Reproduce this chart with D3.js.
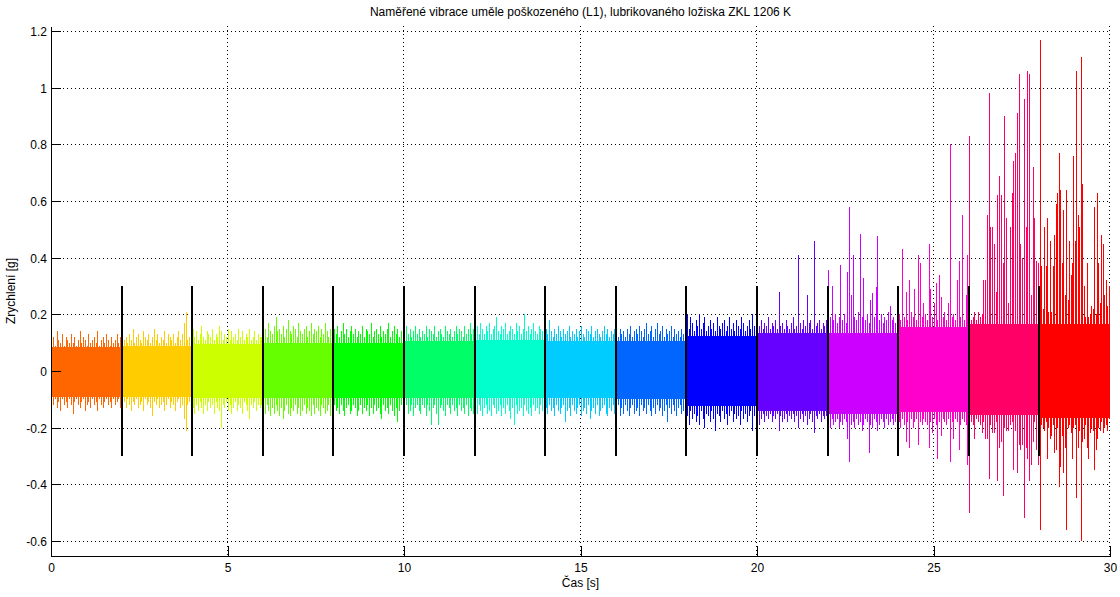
<!DOCTYPE html>
<html><head><meta charset="utf-8">
<script src="https://cdn.jsdelivr.net/npm/d3@7"></script>
<style>
html,body{margin:0;padding:0;background:#fff;}
svg{display:block;font-family:"Liberation Sans",Arial,Helvetica,sans-serif;}
</style></head>
<body><svg id="chart" width="1120" height="597"></svg>
<script>
const title = "Naměřené vibrace uměle poškozeného (L1), lubrikovaného ložiska ZKL 1206 K";
const xLabel = "Čas [s]";
const yLabel = "Zrychlení [g]";
const xTicks = [0,5,10,15,20,25,30];
const xTickLabels = ["0","5","10","15","20","25","30"];
const yTicks = [-0.6,-0.4,-0.2,0,0.2,0.4,0.6,0.8,1,1.2];
const yTickLabels = ["-0.6","-0.4","-0.2","0","0.2","0.4","0.6","0.8","1","1.2"];
const segStart = [0,2,4,6,8,10,12,14,16,18,20,22,24,26,28];
const segDur = 2;
const segColors = ["#ff6600","#ffcc00","#ccff00","#66ff00","#00ff00","#00ff66","#00ffcc","#00ccff","#0066ff","#0000ff","#6600ff","#cc00ff","#ff00cc","#ff0066","#ff0000"];
const coreHi = [0.085,0.09,0.095,0.10,0.10,0.105,0.11,0.105,0.105,0.125,0.135,0.135,0.155,0.165,0.165];
const coreLo = [-0.09,-0.09,-0.095,-0.095,-0.095,-0.095,-0.095,-0.095,-0.10,-0.125,-0.14,-0.15,-0.145,-0.155,-0.165];
const segHi = [
[0.10,0.12,0.09,0.14,0.11,0.10,0.13,0.09,0.12,0.11,0.10,0.13,0.10,0.12,0.09,0.11,0.14,0.10,0.12,0.11,0.09,0.13,0.10,0.11,0.12,0.10,0.14,0.09,0.11,0.12,0.10,0.13,0.11,0.09,0.12,0.10,0.11,0.13,0.10,0.12],
[0.14,0.11,0.12,0.10,0.13,0.11,0.15,0.10,0.12,0.13,0.11,0.10,0.14,0.12,0.11,0.13,0.10,0.12,0.15,0.11,0.13,0.10,0.12,0.11,0.14,0.10,0.13,0.12,0.11,0.13,0.10,0.12,0.14,0.11,0.13,0.17,0.21,0.11,0.12,0.13],
[0.15,0.12,0.14,0.11,0.13,0.16,0.12,0.11,0.14,0.13,0.12,0.15,0.11,0.13,0.12,0.16,0.14,0.11,0.13,0.12,0.15,0.11,0.14,0.12,0.13,0.11,0.15,0.12,0.14,0.11,0.13,0.12,0.15,0.11,0.12,0.14,0.11,0.13,0.12,0.12],
[0.13,0.15,0.12,0.17,0.14,0.13,0.16,0.19,0.14,0.15,0.13,0.16,0.12,0.15,0.18,0.14,0.13,0.16,0.15,0.12,0.17,0.14,0.13,0.15,0.16,0.12,0.14,0.17,0.13,0.15,0.14,0.16,0.12,0.15,0.13,0.17,0.14,0.12,0.15,0.14],
[0.15,0.13,0.16,0.12,0.14,0.17,0.13,0.15,0.12,0.14,0.16,0.13,0.15,0.12,0.14,0.13,0.16,0.12,0.15,0.14,0.13,0.17,0.12,0.14,0.15,0.13,0.16,0.12,0.14,0.13,0.15,0.17,0.12,0.14,0.16,0.13,0.15,0.12,0.14,0.17],
[0.14,0.16,0.13,0.15,0.12,0.14,0.16,0.13,0.15,0.12,0.14,0.13,0.16,0.12,0.15,0.14,0.13,0.16,0.12,0.14,0.15,0.13,0.12,0.16,0.14,0.13,0.15,0.12,0.14,0.16,0.13,0.15,0.14,0.12,0.16,0.13,0.15,0.17,0.13,0.15],
[0.14,0.16,0.13,0.17,0.15,0.13,0.16,0.14,0.17,0.13,0.15,0.16,0.19,0.14,0.13,0.16,0.15,0.17,0.13,0.14,0.16,0.15,0.13,0.17,0.14,0.16,0.13,0.15,0.20,0.14,0.16,0.13,0.15,0.17,0.14,0.13,0.16,0.15,0.14,0.16],
[0.15,0.13,0.18,0.14,0.12,0.15,0.13,0.16,0.14,0.12,0.15,0.13,0.14,0.16,0.12,0.14,0.13,0.15,0.12,0.14,0.16,0.13,0.12,0.15,0.14,0.13,0.16,0.12,0.14,0.15,0.13,0.12,0.14,0.16,0.13,0.15,0.12,0.14,0.13,0.15],
[0.14,0.12,0.15,0.13,0.14,0.12,0.15,0.13,0.16,0.12,0.14,0.15,0.13,0.16,0.14,0.12,0.15,0.17,0.13,0.14,0.16,0.12,0.15,0.17,0.13,0.14,0.16,0.12,0.15,0.13,0.14,0.16,0.12,0.15,0.13,0.14,0.12,0.15,0.13,0.14],
[0.20,0.15,0.19,0.17,0.14,0.18,0.16,0.20,0.15,0.17,0.19,0.14,0.16,0.18,0.15,0.17,0.14,0.19,0.16,0.15,0.17,0.18,0.14,0.16,0.19,0.15,0.17,0.14,0.18,0.16,0.15,0.19,0.17,0.14,0.16,0.18,0.15,0.20,0.16,0.17],
[0.17,0.16,0.18,0.15,0.17,0.16,0.19,0.15,0.17,0.16,0.18,0.15,0.28,0.16,0.17,0.15,0.18,0.16,0.15,0.17,0.19,0.15,0.16,0.41,0.17,0.15,0.18,0.16,0.27,0.17,0.18,0.15,0.46,0.16,0.17,0.18,0.15,0.17,0.16,0.18],
[0.355,0.19,0.30,0.18,0.20,0.17,0.19,0.375,0.18,0.20,0.17,0.35,0.58,0.27,0.41,0.19,0.18,0.21,0.485,0.19,0.33,0.18,0.20,0.17,0.25,0.275,0.19,0.295,0.475,0.18,0.20,0.17,0.19,0.18,0.21,0.23,0.18,0.19,0.17,0.20],
[0.20,0.18,0.43,0.19,0.28,0.18,0.32,0.21,0.19,0.29,0.18,0.41,0.38,0.19,0.24,0.20,0.18,0.45,0.29,0.19,0.24,0.31,0.18,0.34,0.26,0.19,0.21,0.18,0.24,0.80,0.19,0.20,0.18,0.32,0.39,0.19,0.55,0.18,0.27,0.41],
[0.83,0.18,0.19,0.21,0.18,0.21,0.19,0.20,0.32,0.32,0.55,0.98,0.51,0.51,0.45,0.28,0.62,0.69,0.62,0.38,0.90,0.54,0.24,0.51,0.63,0.74,0.77,0.91,1.05,0.45,0.40,0.96,0.51,1.06,1.05,0.27,0.72,0.54,0.39,0.38],
[1.17,0.37,0.22,0.51,0.37,0.54,0.21,0.46,0.21,0.37,0.48,0.59,0.63,0.77,0.64,0.38,0.57,0.27,0.64,0.25,0.46,0.34,0.38,0.76,0.46,1.06,0.55,0.51,1.11,0.66,0.30,0.19,0.38,0.19,0.20,0.23,0.22,0.58,0.20,0.63,0.38,0.24,0.48,0.45,0.27,0.32,0.23,0.30]
];
const segLo = [
[-0.11,-0.12,-0.10,-0.13,-0.11,-0.14,-0.10,-0.12,-0.11,-0.13,-0.10,-0.12,-0.15,-0.11,-0.10,-0.12,-0.13,-0.11,-0.10,-0.14,-0.12,-0.11,-0.13,-0.10,-0.12,-0.11,-0.14,-0.10,-0.12,-0.13,-0.11,-0.10,-0.12,-0.11,-0.13,-0.10,-0.12,-0.11,-0.10,-0.13],
[-0.12,-0.11,-0.13,-0.10,-0.12,-0.14,-0.11,-0.12,-0.10,-0.13,-0.12,-0.11,-0.14,-0.10,-0.12,-0.11,-0.13,-0.16,-0.11,-0.12,-0.10,-0.13,-0.12,-0.11,-0.14,-0.12,-0.10,-0.13,-0.11,-0.12,-0.14,-0.11,-0.10,-0.13,-0.12,-0.17,-0.21,-0.12,-0.11,-0.13],
[-0.13,-0.15,-0.12,-0.14,-0.11,-0.13,-0.15,-0.12,-0.14,-0.11,-0.13,-0.12,-0.15,-0.11,-0.13,-0.14,-0.20,-0.12,-0.13,-0.11,-0.14,-0.12,-0.15,-0.13,-0.11,-0.14,-0.12,-0.13,-0.15,-0.11,-0.12,-0.14,-0.17,-0.12,-0.13,-0.11,-0.14,-0.12,-0.13,-0.12],
[-0.13,-0.15,-0.12,-0.14,-0.16,-0.13,-0.15,-0.12,-0.14,-0.16,-0.13,-0.17,-0.14,-0.12,-0.15,-0.16,-0.13,-0.14,-0.12,-0.15,-0.13,-0.16,-0.14,-0.12,-0.15,-0.13,-0.14,-0.16,-0.12,-0.15,-0.13,-0.14,-0.16,-0.12,-0.13,-0.15,-0.14,-0.12,-0.16,-0.13],
[-0.12,-0.14,-0.13,-0.15,-0.12,-0.14,-0.16,-0.13,-0.12,-0.15,-0.14,-0.12,-0.13,-0.16,-0.14,-0.12,-0.15,-0.13,-0.14,-0.12,-0.16,-0.13,-0.15,-0.12,-0.14,-0.13,-0.15,-0.17,-0.12,-0.14,-0.13,-0.15,-0.12,-0.14,-0.16,-0.13,-0.18,-0.14,-0.12,-0.15],
[-0.13,-0.12,-0.15,-0.14,-0.12,-0.16,-0.13,-0.12,-0.14,-0.15,-0.12,-0.13,-0.16,-0.12,-0.14,-0.19,-0.13,-0.12,-0.15,-0.19,-0.13,-0.12,-0.14,-0.16,-0.12,-0.13,-0.15,-0.12,-0.14,-0.13,-0.16,-0.12,-0.14,-0.13,-0.15,-0.12,-0.16,-0.13,-0.14,-0.15],
[-0.13,-0.15,-0.12,-0.14,-0.16,-0.13,-0.12,-0.15,-0.14,-0.16,-0.12,-0.13,-0.15,-0.14,-0.12,-0.16,-0.13,-0.15,-0.12,-0.14,-0.17,-0.13,-0.19,-0.12,-0.15,-0.14,-0.13,-0.16,-0.12,-0.14,-0.15,-0.13,-0.16,-0.12,-0.14,-0.13,-0.15,-0.12,-0.14,-0.13],
[-0.13,-0.15,-0.12,-0.14,-0.13,-0.16,-0.12,-0.14,-0.15,-0.13,-0.12,-0.18,-0.14,-0.13,-0.16,-0.12,-0.14,-0.15,-0.13,-0.12,-0.16,-0.14,-0.13,-0.15,-0.12,-0.17,-0.14,-0.13,-0.15,-0.12,-0.16,-0.14,-0.13,-0.12,-0.15,-0.16,-0.13,-0.14,-0.12,-0.15],
[-0.14,-0.12,-0.16,-0.13,-0.15,-0.12,-0.14,-0.16,-0.13,-0.12,-0.15,-0.14,-0.13,-0.16,-0.12,-0.14,-0.13,-0.15,-0.12,-0.14,-0.16,-0.13,-0.15,-0.12,-0.14,-0.13,-0.16,-0.14,-0.12,-0.18,-0.13,-0.15,-0.12,-0.14,-0.16,-0.13,-0.12,-0.15,-0.14,-0.13],
[-0.16,-0.19,-0.14,-0.17,-0.15,-0.18,-0.16,-0.19,-0.14,-0.17,-0.20,-0.15,-0.16,-0.18,-0.14,-0.17,-0.21,-0.15,-0.16,-0.18,-0.14,-0.17,-0.15,-0.19,-0.16,-0.14,-0.18,-0.15,-0.17,-0.16,-0.19,-0.14,-0.17,-0.15,-0.18,-0.16,-0.14,-0.21,-0.16,-0.15],
[-0.16,-0.19,-0.17,-0.15,-0.18,-0.16,-0.17,-0.15,-0.18,-0.16,-0.17,-0.15,-0.21,-0.16,-0.18,-0.17,-0.15,-0.18,-0.16,-0.17,-0.15,-0.18,-0.16,-0.20,-0.17,-0.15,-0.18,-0.16,-0.19,-0.17,-0.15,-0.18,-0.22,-0.16,-0.17,-0.15,-0.18,-0.16,-0.17,-0.16],
[-0.18,-0.20,-0.17,-0.19,-0.18,-0.17,-0.20,-0.18,-0.19,-0.17,-0.18,-0.24,-0.32,-0.19,-0.18,-0.20,-0.17,-0.19,-0.18,-0.21,-0.19,-0.17,-0.18,-0.29,-0.19,-0.20,-0.17,-0.18,-0.21,-0.19,-0.17,-0.18,-0.20,-0.17,-0.19,-0.18,-0.17,-0.19,-0.18,-0.17],
[-0.18,-0.20,-0.17,-0.19,-0.25,-0.18,-0.27,-0.17,-0.20,-0.18,-0.17,-0.26,-0.18,-0.19,-0.17,-0.18,-0.19,-0.27,-0.18,-0.22,-0.17,-0.19,-0.31,-0.18,-0.23,-0.17,-0.18,-0.19,-0.17,-0.32,-0.18,-0.24,-0.17,-0.18,-0.28,-0.19,-0.17,-0.18,-0.19,-0.33],
[-0.50,-0.18,-0.19,-0.24,-0.17,-0.18,-0.19,-0.22,-0.18,-0.24,-0.24,-0.38,-0.19,-0.22,-0.22,-0.18,-0.39,-0.27,-0.25,-0.44,-0.20,-0.21,-0.21,-0.19,-0.18,-0.35,-0.21,-0.36,-0.26,-0.28,-0.26,-0.52,-0.27,-0.31,-0.39,-0.33,-0.25,-0.18,-0.28,-0.33],
[-0.56,-0.19,-0.20,-0.21,-0.18,-0.31,-0.20,-0.24,-0.23,-0.19,-0.29,-0.28,-0.20,-0.41,-0.34,-0.23,-0.36,-0.27,-0.56,-0.20,-0.19,-0.22,-0.31,-0.20,-0.19,-0.45,-0.27,-0.21,-0.60,-0.25,-0.24,-0.19,-0.27,-0.31,-0.22,-0.20,-0.21,-0.35,-0.28,-0.24,-0.20,-0.21,-0.18,-0.22,-0.20,-0.19,-0.21,-0.17]
];
const sepTimes = [2,4,6,8,10,12,14,16,18,20,22,24,26,28];
const sepRange = [-0.3, 0.3];
const xDomain = [0,30];
const yDomain = [-0.653,1.218];

const svg = d3.select("#chart");
const L = 51, R = 1110, T = 26, B = 556;
const x = d3.scaleLinear().domain(xDomain).range([L, R]);
const y = d3.scaleLinear().domain(yDomain).range([B, T]);
const font = '"Liberation Sans",Arial,Helvetica,sans-serif';
const px = v => Math.floor(v) + 0.5;

// grid
const grid = svg.append("g").attr("shape-rendering","crispEdges");
grid.selectAll("line.gx").data(xTicks.filter(d=>d!==0)).join("line")
  .attr("x1",d=>Math.round(x(d))-0.5).attr("x2",d=>Math.round(x(d))-0.5)
  .attr("y1",T).attr("y2",B)
  .attr("stroke","#000").attr("stroke-width",1).attr("stroke-dasharray","1,3");
grid.selectAll("line.gy").data(yTicks).join("line")
  .attr("x1",L).attr("x2",R)
  .attr("y1",d=>Math.round(y(d))+0.5).attr("y2",d=>Math.round(y(d))+0.5)
  .attr("stroke","#000").attr("stroke-width",1).attr("stroke-dasharray","1,3");

// signal segments
const sig = svg.append("g").attr("shape-rendering","crispEdges");
segStart.forEach((t0,i)=>{
  const g = sig.append("g");
  const col = segColors[i];
  g.append("rect")
    .attr("x", x(t0)).attr("width", x(t0+segDur)-x(t0))
    .attr("y", y(coreHi[i])).attr("height", y(coreLo[i]) - y(coreHi[i]))
    .attr("fill", col);
  const n = segHi[i].length;
  const tt = j => t0 + (j+0.5)*segDur/n;
  g.selectAll("line.h").data(segHi[i]).join("line")
    .attr("x1",(d,j)=>px(x(tt(j)))).attr("x2",(d,j)=>px(x(tt(j))))
    .attr("y1",y(0)).attr("y2",d=>y(d))
    .attr("stroke",col).attr("stroke-width",1);
  g.selectAll("line.l").data(segLo[i]).join("line")
    .attr("x1",(d,j)=>px(x(tt(j)))).attr("x2",(d,j)=>px(x(tt(j))))
    .attr("y1",y(0)).attr("y2",d=>y(d))
    .attr("stroke",col).attr("stroke-width",1);
});

// separators
svg.append("g").attr("shape-rendering","crispEdges").selectAll("line").data(sepTimes).join("line")
  .attr("x1",d=>x(d)).attr("x2",d=>x(d))
  .attr("y1",y(sepRange[0])).attr("y2",y(sepRange[1]))
  .attr("stroke","#000").attr("stroke-width",2);

// axes
const ax = d3.axisBottom(x).tickValues(xTicks).tickFormat((d,i)=>xTickLabels[i])
  .tickSizeInner(-10).tickSizeOuter(0).tickPadding(7.5);
const gx = svg.append("g").attr("transform",`translate(0,${B})`).call(ax);
const ay = d3.axisLeft(y).tickValues(yTicks).tickFormat((d,i)=>yTickLabels[i])
  .tickSizeInner(-10).tickSizeOuter(0).tickPadding(4);
const gy = svg.append("g").attr("transform",`translate(${L},0)`).call(ay);
[gx,gy].forEach(g=>{
  g.attr("font-family",font).attr("font-size",12);
  g.selectAll("path,line").attr("stroke","#000").attr("shape-rendering","crispEdges");
  g.selectAll("text").attr("fill","#000");
});
gy.selectAll("text").attr("dy","0.38em");

// labels
svg.append("text").attr("x",(L+R)/2).attr("y",16).attr("text-anchor","middle")
  .attr("font-family",font).attr("font-size",12).text(title);
svg.append("text").attr("x",(L+R)/2).attr("y",587).attr("text-anchor","middle")
  .attr("font-family",font).attr("font-size",12).text(xLabel);
svg.append("text").attr("transform",`translate(15,${(T+B)/2}) rotate(-90)`).attr("text-anchor","middle")
  .attr("font-family",font).attr("font-size",12).text(yLabel);
</script></body></html>
